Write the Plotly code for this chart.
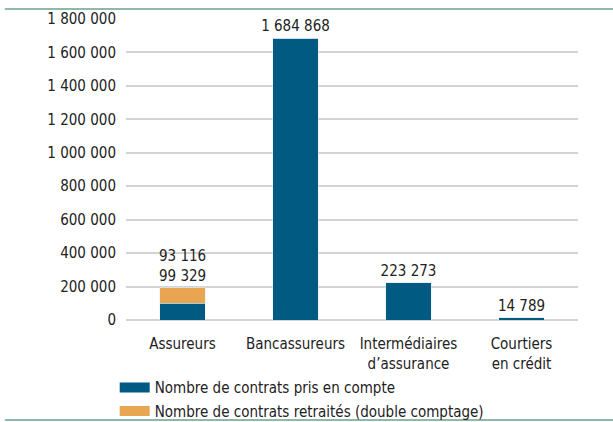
import plotly.graph_objects as go

categories = ["Assureurs", "Bancassureurs", "Intermédiaires<br>d’assurance", "Courtiers<br>en crédit"]
pris_en_compte = [99329, 1684868, 223273, 14789]
retraites = [93116, 0, 0, 0]
tick_vals = [0, 200000, 400000, 600000, 800000, 1000000, 1200000, 1400000, 1600000, 1800000]

FONT = "DejaVu Sans Condensed, Roboto, sans-serif"
SIZE = 15
BLUE = "#005A82"
ORANGE = "#E8A552"
NAMES = ["Nombre de contrats pris en compte", "Nombre de contrats retraités (double comptage)"]


def fmt(v):
    return f"{v:,}".replace(",", " ")


fig = go.Figure()
fig.add_trace(go.Bar(
    x=categories, y=pris_en_compte, name=NAMES[0], showlegend=False,
    marker_color=BLUE,
    text=[None if i == 0 else fmt(v) for i, v in enumerate(pris_en_compte)],
    textposition="outside", cliponaxis=False, constraintext="none",
    textfont=dict(family=FONT, size=SIZE, color="#222"),
))
fig.add_trace(go.Bar(
    x=categories, y=retraites, name=NAMES[1], showlegend=False,
    marker_color=ORANGE,
))

# legend entries drawn as wide swatches
for name, col in zip(NAMES, [BLUE, ORANGE]):
    fig.add_trace(go.Scatter(x=[None], y=[None], mode="lines", name=name, legendgroup=name,
                             line=dict(color=col, width=12)))

# labels for the stacked Assureurs bar
total0 = pris_en_compte[0] + retraites[0]
fig.add_annotation(x=categories[0], y=total0, text=fmt(pris_en_compte[0]),
                   showarrow=False, yanchor="bottom", yshift=1,
                   font=dict(family=FONT, size=SIZE, color="#222"))
fig.add_annotation(x=categories[0], y=total0, text=fmt(retraites[0]),
                   showarrow=False, yanchor="bottom", yshift=21,
                   font=dict(family=FONT, size=SIZE, color="#222"))

# green rules top and bottom
for yy in (1.0335, -0.332):
    fig.add_shape(type="line", xref="paper", yref="paper", x0=-0.268, x1=1.08, y0=yy, y1=yy,
                  line=dict(color="#8FB8A8", width=2))

fig.update_layout(
    barmode="stack", bargap=0.6,
    width=613, height=422,
    margin=dict(l=126, r=35, t=19, b=102, autoexpand=False),
    plot_bgcolor="white", paper_bgcolor="white",
    font=dict(family=FONT, size=SIZE, color="#222"),
    showlegend=True,
    legend=dict(x=-0.025, y=-0.17, xanchor="left", yanchor="top", traceorder="grouped",
                font=dict(family=FONT, size=SIZE, color="#222"),
                tracegroupgap=1, itemwidth=30, bgcolor="rgba(0,0,0,0)"),
    xaxis=dict(showline=False, ticks="outside", ticklen=10, tickcolor="rgba(0,0,0,0)",
               tickangle=0, tickfont=dict(size=SIZE)),
    yaxis=dict(range=[0, 1800000], tickvals=tick_vals,
               ticktext=[fmt(v) for v in tick_vals],
               showgrid=True, gridcolor="#D3D3D3", gridwidth=1.5,
               zeroline=True, zerolinecolor="#D3D3D3", zerolinewidth=1.5,
               ticks="outside", ticklen=6, tickcolor="rgba(0,0,0,0)",
               tickfont=dict(size=SIZE)),
)

fig.write_html("out.html", config={"displayModeBar": False},
               post_script="document.body.style.margin='0px';")
